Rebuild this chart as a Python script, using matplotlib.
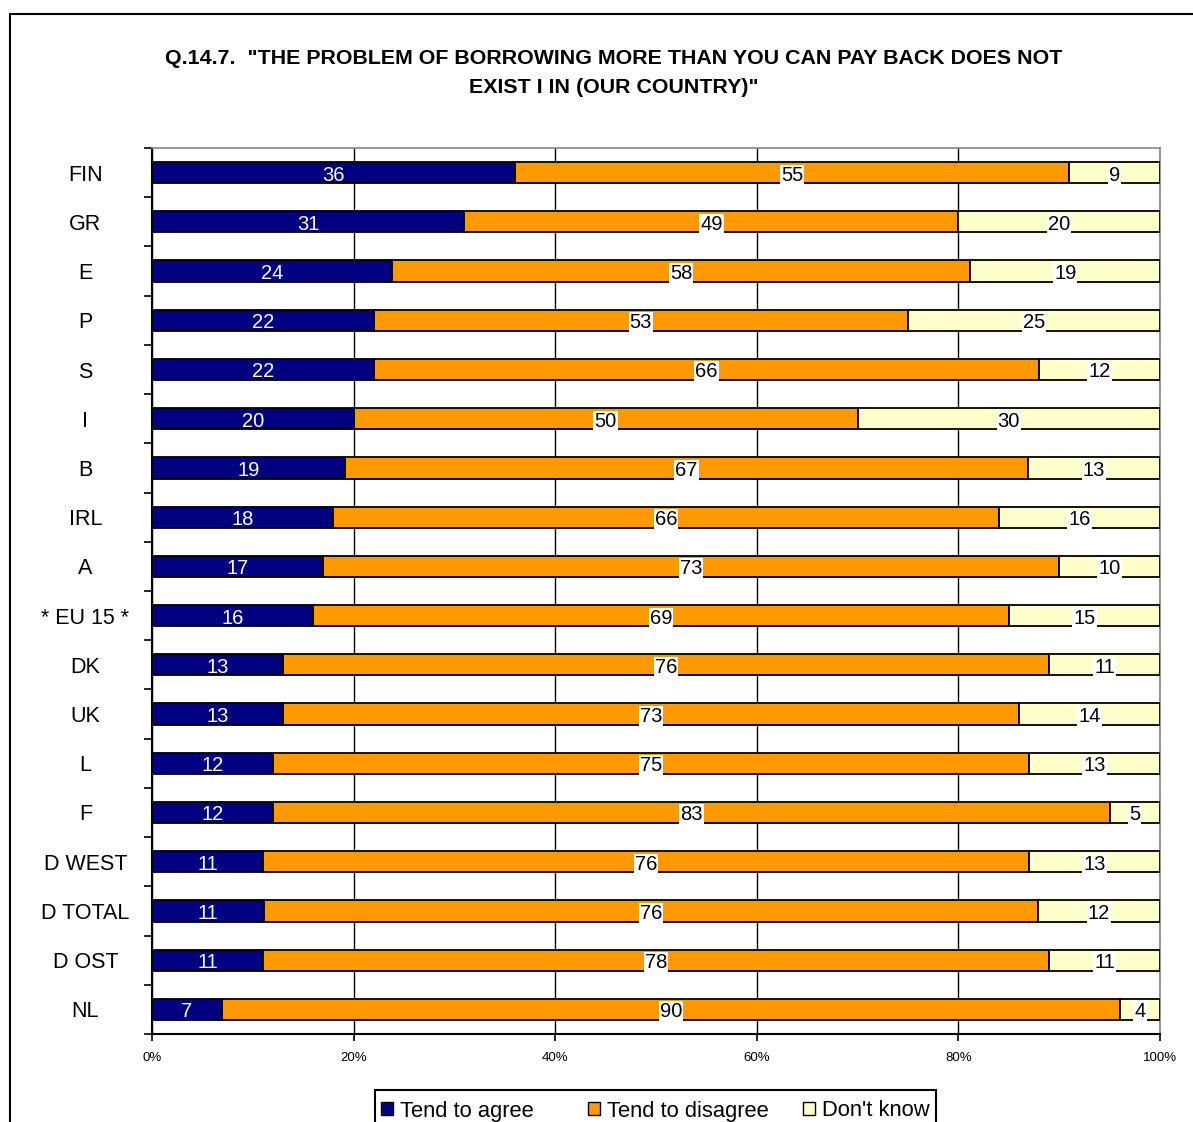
import matplotlib
matplotlib.use("Agg")
import matplotlib.pyplot as plt
from matplotlib.patches import Patch, Rectangle
import numpy as np

plt.rcParams['font.family'] = ['Liberation Sans', 'DejaVu Sans']

categories = ["FIN", "GR", "E", "P", "S", "I", "B", "IRL", "A", "* EU 15 *",
              "DK", "UK", "L", "F", "D WEST", "D TOTAL", "D OST", "NL"]
agree = [36, 31, 24, 22, 22, 20, 19, 18, 17, 16, 13, 13, 12, 12, 11, 11, 11, 7]
disagree = [55, 49, 58, 53, 66, 50, 67, 66, 73, 69, 76, 73, 75, 83, 76, 76, 78, 90]
dont_know = [9, 20, 19, 25, 12, 30, 13, 16, 10, 15, 11, 14, 13, 5, 13, 12, 11, 4]
series_names = ["Tend to agree", "Tend to disagree", "Don't know"]
x_ticklabels = ["0%", "20%", "40%", "60%", "80%", "100%"]

colors = ["#000080", "#FF9900", "#FFFFCC"]
text_colors = ["white", "black", "black"]

W, H = 1193, 1122
fig = plt.figure(figsize=(W / 100, H / 100), dpi=100)

# outer frame (runs off the right and bottom edges)
fig.patches.append(Rectangle((10 / W, -0.05), 1.2, 1 - 14 / H + 0.05,
                             transform=fig.transFigure, fill=False,
                             edgecolor="black", linewidth=1.5))

ax = fig.add_axes([152 / W, 1 - 1034 / H, (1160 - 152) / W, (1034 - 148) / H])

data = np.array([agree, disagree, dont_know], dtype=float)
totals = data.sum(axis=0)
shares = data / totals * 100
y = np.arange(len(categories))
left = np.zeros(len(categories))
for k in range(3):
    ax.barh(y, shares[k], left=left, height=0.43, color=colors[k],
            edgecolor="black", linewidth=1.3, zorder=3)
    for i in range(len(categories)):
        cx = left[i] + shares[k][i] / 2
        kw = {}
        if k > 0:
            kw["bbox"] = dict(boxstyle="square,pad=0.05", facecolor="white",
                              edgecolor="none")
        ax.text(cx, y[i] + 0.05, f"{int(data[k][i])}", ha="center", va="center",
                fontsize=14.5, color=text_colors[k], zorder=5, **kw)
    left += shares[k]

ax.set_xlim(0, 100)
ax.set_ylim(len(categories) - 0.5, -0.5)
ax.set_xticks(np.arange(0, 101, 20))
ax.set_xticklabels(x_ticklabels, fontsize=9.5)
ax.tick_params(axis="x", direction="out", length=5, width=1.2, pad=8)
ax.xaxis.grid(True, color="black", linewidth=1.0, zorder=0)
ax.set_axisbelow(True)

ax.set_yticks(y)
ax.set_yticklabels(categories, fontsize=15.5)
for lbl in ax.get_yticklabels():
    lbl.set_horizontalalignment("center")
ax.tick_params(axis="y", which="major", length=0, pad=48)
ax.set_yticks(np.arange(-0.5, len(categories), 1), minor=True)
ax.tick_params(axis="y", which="minor", direction="out", length=6, width=1.2)

for side in ["top", "right"]:
    ax.spines[side].set_color("#888888")
    ax.spines[side].set_linewidth(1.2)
for side in ["left", "bottom"]:
    ax.spines[side].set_color("black")
    ax.spines[side].set_linewidth(1.5)

fig.text(614 / W, 1 - 73 / H,
         'Q.14.7.  "THE PROBLEM OF BORROWING MORE THAN YOU CAN PAY BACK DOES NOT\n'
         'EXIST I IN (OUR COUNTRY)"',
         ha="center", va="center", fontsize=15.4, fontweight="bold",
         linespacing=1.62)

# legend box (runs off the bottom edge)
fig.patches.append(Rectangle((375 / W, -0.05), (936 - 375) / W, 0.05 + 1 - 1090 / H,
                             transform=fig.transFigure, fill=False,
                             edgecolor="black", linewidth=1.5))
legend_x = [381, 588, 803]
for c, name, lx in zip(colors, series_names, legend_x):
    fig.legend([Patch(facecolor=c, edgecolor="black", linewidth=1.0)], [name],
               loc="center left", bbox_to_anchor=(lx / W, 1 - 1111 / H),
               bbox_transform=fig.transFigure, borderaxespad=0, borderpad=0,
               fontsize=15.8, frameon=False, handlelength=0.55, handleheight=0.55,
               handletextpad=0.32)

fig.savefig("out.png", dpi=100)
